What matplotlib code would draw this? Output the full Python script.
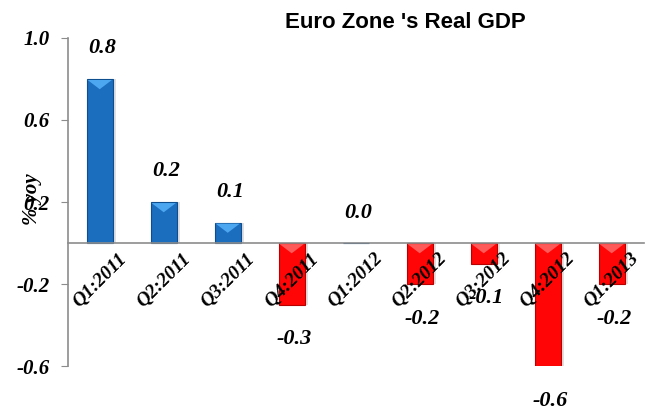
import matplotlib
matplotlib.use("Agg")
import matplotlib.pyplot as plt
import numpy as np

categories = ["Q1:2011", "Q2:2011", "Q3:2011", "Q4:2011", "Q1:2012",
              "Q2:2012", "Q3:2012", "Q4:2012", "Q1:2013"]
values = [0.8, 0.2, 0.1, -0.3, 0.0, -0.2, -0.1, -0.6, -0.2]
value_labels = ["0.8", "0.2", "0.1", "-0.3", "0.0", "-0.2", "-0.1", "-0.6", "-0.2"]
yticks = [-0.6, -0.2, 0.2, 0.6, 1.0]
ytick_labels = ["-0.6", "-0.2", "0.2", "0.6", "1.0"]
title = "Euro Zone 's Real GDP"
ylabel = "% yoy"

fig = plt.figure(figsize=(6.45, 4.17), dpi=100)
ax = fig.add_axes([0.105, 0.122, 0.893, 0.787])

x = np.arange(len(categories))
vals = np.array(values)
face = ["#1B6DBE" if v >= 0 else "#FF0505" for v in vals]
edge = ["#0E4E8E" if v >= 0 else "#B80000" for v in vals]
hi = ["#4DA6F0" if v >= 0 else "#FF5A5A" for v in vals]

# shadow
ax.bar(x + 0.05, vals, width=0.42, color="#000000", alpha=0.12, zorder=0.5)
ax.bar(x, vals, width=0.4, color=face, edgecolor=edge, linewidth=0.8, zorder=0.6)
# bevel highlight at the upper edge of each bar
for xi, v, h in zip(x, vals, hi):
    if v == 0:
        continue
    top = max(v, 0.0)
    d = min(0.05, abs(v) * 0.5)
    tri_x = [xi - 0.19, xi + 0.19, xi]
    tri_y = [top - 0.005, top - 0.005, top - d]
    ax.fill(tri_x, tri_y, color=h, zorder=0.7, linewidth=0)

ax.set_xlim(-0.5, len(categories) - 0.5)
ax.set_ylim(-0.6, 1.0)

lab_font = dict(family="Liberation Serif", weight="bold", style="italic")
for xi, v, t in zip(x, vals, value_labels):
    off = 22 if v >= 0 else -25
    ax.annotate(t, (xi, v), xytext=(2, off), textcoords="offset points",
                ha="center", va="center", fontsize=16, zorder=5, **lab_font)

ax.spines["bottom"].set_position(("data", 0))
ax.spines["top"].set_visible(False)
ax.spines["right"].set_visible(False)
ax.spines["bottom"].set_color("#8C8C8C")
ax.spines["left"].set_color("#8C8C8C")
ax.spines["bottom"].set_linewidth(1.2)
ax.spines["left"].set_linewidth(1.2)

ax.set_xticks(x)
ax.set_xticklabels(categories, rotation=45, ha="center", va="top",
                   fontsize=14, **lab_font)
ax.tick_params(axis="x", length=0, pad=5)
ax.set_yticks(yticks)
ax.set_yticklabels(ytick_labels, fontsize=15, **lab_font)
ax.tick_params(axis="y", length=5, color="#8C8C8C", pad=8)

ax.set_ylabel(ylabel, fontsize=15, **lab_font)
ax.yaxis.set_label_coords(-0.045, 0.51)

fig.text(0.628, 0.947, title, ha="center", va="center", fontsize=16,
         fontweight="bold", family="Liberation Sans")

fig.savefig("out.png", dpi=100)
